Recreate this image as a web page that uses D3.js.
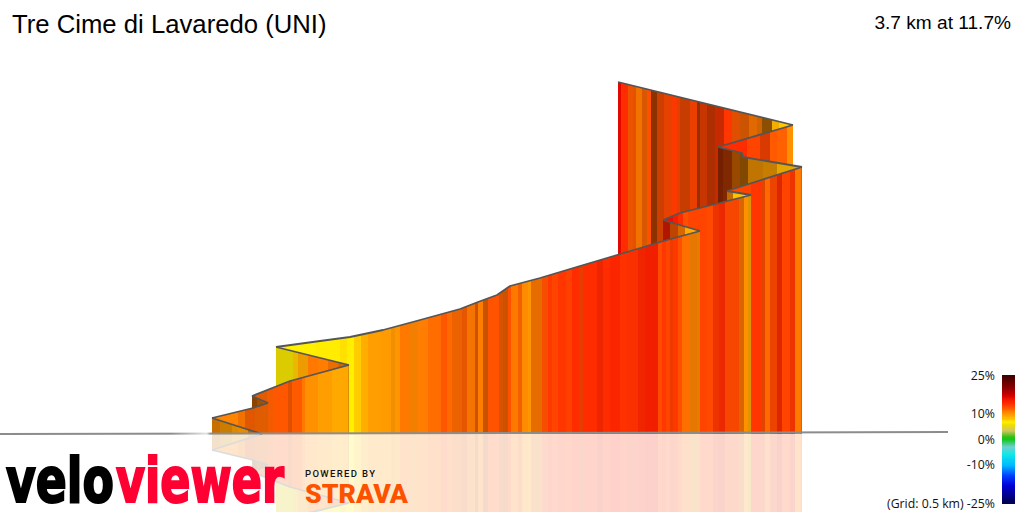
<!DOCTYPE html>
<html>
<head>
<meta charset="utf-8">
<script src="https://cdn.jsdelivr.net/npm/d3@7"></script>
<style>
html,body{margin:0;padding:0;background:#fff;overflow:hidden}
svg{display:block}
</style>
</head>
<body>
<svg id="chart" width="1024" height="512"></svg>
<script>
// Route vertices: position along the view (m) and elevation above the start (m)
const routeEast = [524,424,506,536,504,580,698,552,640,700,766,840,920,956,994,1020,1080,1160,1234,1334,1400,1326,1360,1502,1454,1604,1486,1484,1436,1586,1236];
const routeElev = [0,20,32.5,38.75,47.5,66.25,86.25,108.75,116.25,121.25,130,142.5,156.25,165,173.75,185,195,210,223.75,242.5,253.75,267.5,276.25,298.75,303.75,333.75,346.25,351.25,358.75,386.25,440];
// Route index where each hairpin-to-hairpin leg starts and ends
const legStart = [0,1,3,4,6,7,20,21,23,24,25,28,29];
const legEnd   = [1,3,4,6,7,20,21,23,24,25,28,29,30];
// Stripes per leg: [view position where stripe ends, gradient %, light factor]
const leg00 = [[440,10,.78],[464,9.5,.8],[476,9.5,.88],[496,9.5,.9],[524,10.5,.75]];
const leg01 = [[476,10.5],[490,11,.95],[510,11.7,.88],[536,11.5,.88]];
const leg02 = [[514,11,.55],[526,11,.65],[536,11.5,.75]];
const leg03 = [[534,11.5,.88],[546,11.8,.95],[576,12.2],[584,12,.88],[604,12],[610,11],[636,10],[664,9.4],[684,9],[696,9.1],[698,9,.85]];
const leg04 = [[586,6.5,.88],[596,8,.92],[616,9,.93],[636,11],[656,10.8],[676,11,.92],[698,11,.83]];
const leg05 = [[632,7],[680,7.1],[694,7.4],[700,7.1],[708,7],[722,7.9],[736,8.8],[764,9.4],[782,9.6],[790,9.7,.95],[800,9.8],[820,11],[836,10.4,.95],[856,10.8],[882,11.4],[894,12.2],[904,11.5],[924,11.5,.93],[934,11.8,.9],[950,11,.96],[956,11.5,.8],[966,10.8],[976,11.5,.78],[990,12.3],
  [998,12.3],[1006,11.8,.85],[1016,11.6,.8],[1022,12.4],[1036,11],[1044,11.6,.95],[1056,10.2],[1062,9.8],[1084,11,.9],[1096,12.5,.97],[1104,13.5],[1116,13],[1132,13.6],[1144,13.2],[1158,14],[1166,13,.9],[1194,14],[1206,14.5,.95],[1220,14],[1240,14.6],[1254,13.8],[1276,13.8,.98],[1290,14.6,.96],
  [1316,15,.97],[1324,12.7],[1332,13.5],[1340,13],[1346,13.2,.93],[1356,13.5],[1364,12.5],[1380,11.3],[1394,10.5,.9],[1400,10.2,.9]];
const leg06 = [[1340,15,.7],[1356,12,.75],[1370,11,.85],[1394,8.8],[1400,10.3]];
const leg07 = [[1346,16],[1356,15.2],[1366,14],[1376,12.5],[1402,13],[1414,13],[1426,12.8],[1438,13.5,.93],[1450,14,.92],[1478,12.8,.97],[1488,11,.85],[1496,10],[1502,9,.88]];
const leg08 = [[1466,10,.75],[1480,8.2],[1502,8]];
const leg09 = [[1502,13],[1522,13.6],[1530,12.5,.88],[1540,11.5],[1554,12.8,.93],[1564,14,.87],[1580,13],[1590,13.5,.93],[1602,11],[1604,11,.85]];
const leg10 = [[1446,13,.45],[1464,12.5,.5],[1480,11,.6],[1496,10,.5],[1526,9.5,.75],[1554,9.3,.78],[1604,8.5,.9]];
const leg11 = [[1446,14],[1494,14],[1520,13],[1540,13,.85],[1554,12],[1574,11.8],[1586,10]];
const leg12 = [[1242,16.5],[1256,14],[1266,12,.92],[1272,12,.9],[1284,11,.95],[1294,11.6,.85],[1302,12.5],[1314,12,.55],[1328,12.5,.8],[1344,12.8,.9],[1354,13.4,.98],[1360,13,.9],[1380,12.6,.78],[1394,13,.92],[1400,12.3,.58],[1414,13,.78],[1430,13,.68],[1448,13.6,.78],[1464,13.6],[1480,12,.88],[1498,11.5,.8],[1514,11,.88],[1524,11,.82],[1544,10,.55],[1558,8.5,.95],[1578,8],[1586,8.2,.85]];
const legStripes = [leg00,leg01,leg02,leg03,leg04,leg05,leg06,leg07,leg08,leg09,leg10,leg11,leg12];
// Ground line
const groundEast = [0,1896];
const groundElev = [0,2.5];
// Gradient colour ramp
const gradeStops = [-25,-18,-14,-10,-6,-3,0,1,3.5,6,7,8,9,10,11,12,13,14,15,17,20,25];
const gradeColours = ["#000050","#0000d8","#0040ff","#00b8ff","#10e8e8","#70d0d0","#10c820","#30c010","#d0c860","#f0e000","#fff000","#ffc800","#ffa800","#ff9000","#ff7800","#ff5a00","#ff4400","#ff2c00","#f82000","#d80000","#900000","#400000"];
const legendTicks = [25,10,0,-10,-25];
const legendTickLabels = ["25%","10%","0%","-10%","(Grid: 0.5 km) -25%"];
const titleText = "Tre Cime di Lavaredo (UNI)";
const summaryText = "3.7 km at 11.7%";

const svg = d3.select("#chart");
const x = d3.scaleLinear().domain([0,2048]).range([0,1024]);
const y = d3.scaleLinear().domain([0,100]).range([434,354]);
const colour = d3.scaleLinear().domain(gradeStops).range(gradeColours).interpolate(d3.interpolateRgb);
const legendY = d3.scaleLinear().domain([-25,25]).range([503,375]);

function shaded(grade, light){
  const c = d3.rgb(colour(grade));
  const l = light === undefined ? 1 : light;
  return d3.rgb(c.r*l, c.g*l, c.b*l).formatRgb();
}
const ribbonArea = d3.area().x(d=>x(d[0])).y0(y(0)).y1(d=>y(d[1]));
const routeLine = d3.line().x(d=>x(d[0])).y(d=>y(d[1]));

function drawRibbon(g){
  // far end of the route first, nearest leg last
  d3.range(legStart.length-1,-1,-1).forEach(i=>{
    const idx = d3.range(legStart[i], legEnd[i]+1);
    const pts = idx.map(k=>[routeEast[k],routeElev[k]]);
    const sorted = pts.slice().sort((a,b)=>a[0]-b[0]);
    const elevAt = d3.scaleLinear().domain(sorted.map(d=>d[0])).range(sorted.map(d=>d[1]));
    let prev = sorted[0][0];
    const leg = g.append("g");
    leg.selectAll("path.stripe").data(legStripes[i]).join("path")
      .attr("class","stripe")
      .attr("shape-rendering","crispEdges")
      .attr("fill",d=>shaded(d[1],d[2]))
      .attr("d",d=>{
        const a = prev, b = d[0];
        prev = b;
        const inner = sorted.filter(p=>p[0]>a && p[0]<b);
        const poly = [[a,elevAt(a)],...inner,[b,elevAt(b)]];
        return ribbonArea(poly);
      });
    leg.append("path")
      .attr("fill","none")
      .attr("stroke","#555")
      .attr("stroke-width",1.8)
      .attr("stroke-linejoin","round")
      .attr("d",routeLine(pts));
  });
}

// reflection below the ground
const mirrorAxis = y(0);
const reflection = svg.append("g")
  .attr("opacity",0.2)
  .attr("transform",`translate(0,${2*mirrorAxis}) scale(1,-1)`);
drawRibbon(reflection);

drawRibbon(svg.append("g"));

// ground, with the soft fade just before the ribbon starts
const groundFade = svg.append("linearGradient").attr("id","groundFade")
  .attr("gradientUnits","userSpaceOnUse").attr("x1",0).attr("x2",948).attr("y1",0).attr("y2",0);
[[0,"#8c8c8c"],[0.18,"#8c8c8c"],[0.218,"#e4e4e4"],[0.222,"#8c8c8c"],[1,"#8c8c8c"]].forEach(s=>
  groundFade.append("stop").attr("offset",s[0]).attr("stop-color",s[1]));
svg.append("path")
  .attr("fill","none").attr("stroke","url(#groundFade)").attr("stroke-width",2)
  .attr("d",`M${x(groundEast[0])},${y(groundElev[0])}L${x(groundEast[1])},${y(groundElev[1])}`);

// title
svg.append("text").attr("x",12).attr("y",33)
  .attr("font-family","'Liberation Sans',Arial,sans-serif").attr("font-size",25.7).attr("fill","#000")
  .text(titleText);
svg.append("text").attr("x",1011).attr("y",29).attr("text-anchor","end")
  .attr("font-family","'Liberation Sans',Arial,sans-serif").attr("font-size",19.1).attr("fill","#000")
  .text(summaryText);

// legend
const legendGrades = d3.range(-25,25,0.4);
svg.append("g").selectAll("rect").data(legendGrades).join("rect")
  .attr("x",1002).attr("width",13)
  .attr("y",d=>legendY(d+0.4))
  .attr("height",d=>legendY(d)-legendY(d+0.4)+0.5)
  .attr("shape-rendering","crispEdges")
  .attr("fill",d=>colour(d+0.2));
svg.append("g").selectAll("text").data(legendTicks).join("text")
  .attr("x",995).attr("y",d=>legendY(d)+4.5).attr("text-anchor","end")
  .attr("font-family","'Open Sans',sans-serif").attr("font-size",12.3).attr("fill","#111")
  .text((d,i)=>legendTickLabels[i]);

// logo
const logo = svg.append("g").attr("font-family","'DejaVu Sans',sans-serif").attr("font-weight",700);
logo.append("text").attr("x",6).attr("y",502).attr("font-size",62)
  .attr("textLength",108).attr("lengthAdjust","spacingAndGlyphs")
  .attr("fill","#000").attr("stroke","#000").attr("stroke-width",2.2).text("velo");
logo.append("text").attr("x",116).attr("y",502).attr("font-size",62)
  .attr("textLength",168).attr("lengthAdjust","spacingAndGlyphs")
  .attr("fill","#ff0033").attr("stroke","#ff0033").attr("stroke-width",2.2).text("viewer");
svg.append("text").attr("x",305).attr("y",477)
  .attr("font-family","Roboto,sans-serif").attr("font-weight",500).attr("font-size",9.5)
  .attr("textLength",70).attr("fill","#111").text("POWERED BY");
svg.append("text").attr("x",305).attr("y",503)
  .attr("font-family","Roboto,sans-serif").attr("font-weight",900).attr("font-size",25)
  .attr("textLength",103).attr("lengthAdjust","spacingAndGlyphs").attr("fill","#fc5200").text("STRAVA");
</script>
</body>
</html>
